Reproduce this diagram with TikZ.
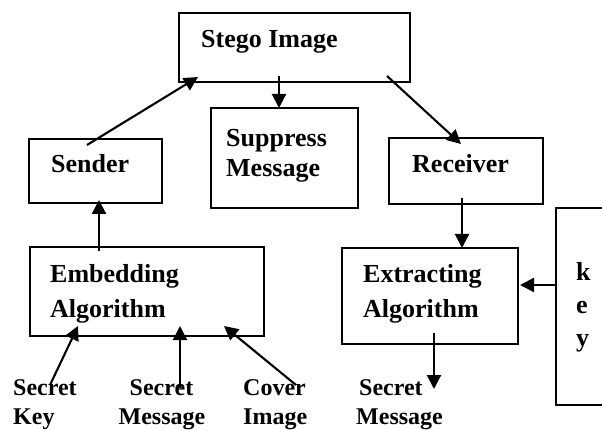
\documentclass[tikz,border=0pt]{standalone}
\usepackage{fontspec}
\setmainfont{Liberation Serif}
\usetikzlibrary{arrows.meta,calc}
\begin{document}
\begin{tikzpicture}[x=1pt,y=-1pt,
  box/.style={draw,line width=2pt,inner sep=0pt,rectangle},
  txt/.style={inner sep=0pt,anchor=base west,font=\fontsize{26}{32}\selectfont\bfseries},
  lbl/.style={inner sep=0pt,font=\fontsize{24}{30}\selectfont\bfseries},
  arr/.style={line width=2.1pt,-{Triangle[length=14pt,width=14pt]}}]
\useasboundingbox (0,0) rectangle (602,430);
\fill[white] (0,0) rectangle (602,430);
\clip (0,0) rectangle (602,430);
% boxes
\node[box,minimum width=231pt,minimum height=69pt] (stego) at (294.5,47.5) {};
\node[box,minimum width=133pt,minimum height=64pt] (sender) at (95.5,171) {};
\node[box,minimum width=147pt,minimum height=100pt] (suppress) at (284.5,158) {};
\node[box,minimum width=154pt,minimum height=66pt] (receiver) at (466,171) {};
\node[box,minimum width=234pt,minimum height=89pt] (embed) at (147,291.5) {};
\node[box,minimum width=176pt,minimum height=96pt] (extract) at (430,296) {};
\node[box,minimum width=84pt,minimum height=197pt] (key) at (598,306.5) {};
% box texts
\node[txt] (stegot) at (201,48) {Stego Image};
\node[txt] (sendert) at (51,173) {Sender};
\node[txt] (suppt1) at (226,147) {Suppress};
\node[txt] (suppt2) at (226,177) {Message};
\node[txt] (recvt) at (412,173) {Receiver};
\node[txt] (embt1) at (50,283) {Embedding};
\node[txt] (embt2) at (50,317) {Algorithm};
\node[txt] (extt1) at (363,283) {Extracting};
\node[txt] (extt2) at (363,317) {Algorithm};
\node[txt] (keyk) at (576,280) {k};
\node[txt] (keye) at (576,313) {e};
\node[txt] (keyy) at (576,346) {y};
% bottom labels
\node[lbl,anchor=base west] (skey1) at (13,395) {Secret};
\node[lbl,anchor=base west] (skey2) at (13,424) {Key};
\node[lbl,anchor=base] (smsg1) at (161.5,395) {Secret};
\node[lbl,anchor=base] (smsg2) at (162,424) {Message};
\node[lbl,anchor=base west] (cover1) at (243,395) {Cover};
\node[lbl,anchor=base west] (cover2) at (243,424) {Image};
\node[lbl,anchor=base west] (rmsg1) at (359,395) {Secret};
\node[lbl,anchor=base west] (rmsg2) at (356,424) {Message};
% arrows
\draw[arr] ($(sender.north)+(-8.5,7)$) -- ($(stego.south west)+(20,-6)$);
\draw[arr] ($(stego.south)+(-15.5,-7)$) -- ($(suppress.north)+(-5.5,1)$);
\draw[arr] ($(stego.south east)+(-24,-7)$) -- ($(receiver.north)+(-5,7)$);
\draw[arr] ($(embed.north)+(-48,5)$) -- ($(sender.south)+(3.5,-4)$);
\draw[arr] ($(receiver.south)+(-4,-7)$) -- ($(extract.north)+(32,1)$);
\draw[arr] ($(key.west)+(0,-21.5)$) -- ($(extract.east)+(1,-11)$);
\draw[arr] ($(extract.south)+(4,-12)$) -- ($(rmsg1.base west)+(75,-6)$);
\draw[arr] ($(skey1.base west)+(37,-10)$) -- ($(embed.south west)+(49,-11)$);
\draw[arr] ($(smsg1.base)+(18.5,-7)$) -- ($(embed.south)+(33,-11)$);
\draw[arr] ($(cover1.base west)+(53,-10)$) -- ($(embed.south east)+(-41,-11)$);
\end{tikzpicture}
\end{document}
